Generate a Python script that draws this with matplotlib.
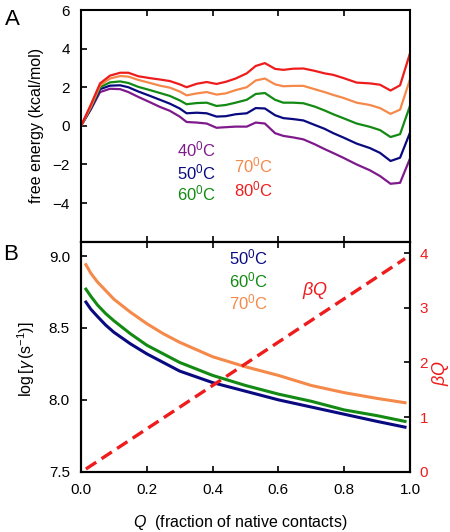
import matplotlib
matplotlib.use("Agg")
import matplotlib.pyplot as plt

plt.rcParams['font.family'] = ['Liberation Sans', 'DejaVu Sans']
plt.rcParams['mathtext.fontset'] = 'custom'
plt.rcParams['mathtext.rm'] = 'Liberation Sans'
plt.rcParams['mathtext.it'] = 'Liberation Sans:italic'

# ---- panel A: free energy profiles ----
q_a = [0, 0.03, 0.058, 0.088, 0.119, 0.144, 0.174, 0.21, 0.24, 0.27, 0.3, 0.321,
       0.352, 0.382, 0.412, 0.44, 0.47, 0.504, 0.531, 0.559, 0.59, 0.615, 0.645,
       0.676, 0.71, 0.74, 0.767, 0.797, 0.838, 0.878, 0.909, 0.941, 0.97, 1.0]
f40 = [0, 0.85, 1.75, 1.92, 1.9, 1.75, 1.5, 1.22, 0.98, 0.78, 0.48, 0.2, 0.17, 0.12,
       -0.1, -0.07, -0.04, -0.04, 0.17, 0.12, -0.38, -0.52, -0.6, -0.7, -0.95, -1.2,
       -1.41, -1.65, -2.0, -2.3, -2.6, -3.0, -2.95, -1.7]
f50 = [0, 0.9, 1.9, 2.08, 2.1, 2.0, 1.78, 1.55, 1.35, 1.15, 0.9, 0.65, 0.68, 0.65,
       0.48, 0.5, 0.6, 0.65, 0.92, 0.9, 0.55, 0.4, 0.35, 0.28, 0.05, -0.15, -0.38,
       -0.6, -0.92, -1.15, -1.4, -1.82, -1.65, -0.36]
f60 = [0, 0.95, 2.0, 2.25, 2.3, 2.22, 2.02, 1.85, 1.7, 1.55, 1.32, 1.12, 1.18, 1.2,
       1.03, 1.08, 1.2, 1.35, 1.65, 1.7, 1.35, 1.2, 1.2, 1.17, 1.0, 0.8, 0.6, 0.4,
       0.12, -0.05, -0.22, -0.58, -0.43, 1.03]
f70 = [0, 1.0, 2.1, 2.45, 2.58, 2.55, 2.38, 2.22, 2.08, 1.98, 1.78, 1.58, 1.68, 1.75,
       1.62, 1.68, 1.85, 2.0, 2.35, 2.45, 2.15, 2.05, 2.07, 2.07, 1.9, 1.75, 1.6,
       1.45, 1.2, 1.08, 0.92, 0.62, 0.84, 2.4]
f80 = [0, 1.1, 2.2, 2.6, 2.75, 2.75, 2.57, 2.47, 2.4, 2.32, 2.15, 2.0, 2.18, 2.27,
       2.17, 2.28, 2.45, 2.72, 3.1, 3.25, 2.95, 2.9, 2.96, 2.97, 2.85, 2.72, 2.64,
       2.48, 2.24, 2.2, 2.13, 1.83, 2.1, 3.75]

# ---- panel B: rates and beta*Q ----
q_b = [0.015, 0.03, 0.05, 0.075, 0.1, 0.15, 0.2, 0.25, 0.3, 0.4, 0.5, 0.6, 0.7,
       0.8, 0.9, 0.985]
g50 = [8.68, 8.63, 8.58, 8.52, 8.47, 8.39, 8.32, 8.26, 8.2, 8.12, 8.06, 8.0, 7.95,
       7.9, 7.85, 7.81]
g60 = [8.77, 8.72, 8.66, 8.6, 8.55, 8.46, 8.38, 8.32, 8.26, 8.17, 8.1, 8.04, 7.99,
       7.93, 7.89, 7.85]
g70 = [8.94, 8.88, 8.82, 8.76, 8.7, 8.61, 8.53, 8.46, 8.4, 8.3, 8.23, 8.17, 8.1,
       8.05, 8.01, 7.98]
q_beta = [0.015, 0.985]
beta_q = [0.05, 3.9]

purple = '#7f1a8c'
navy = '#0a0a80'
green = '#138a13'
orange = '#f5894a'
red = '#ee1c1c'

fig = plt.figure(figsize=(4.5, 5.32), dpi=100)
ax1 = fig.add_axes([0.18, 0.5457, 0.731, 0.4355])
ax2 = fig.add_axes([0.18, 0.1133, 0.731, 0.4324])

ax1.plot(q_a, f40, color=purple, lw=1.6)
ax1.plot(q_a, f50, color=navy, lw=1.6)
ax1.plot(q_a, f60, color=green, lw=1.6)
ax1.plot(q_a, f70, color=orange, lw=1.6)
ax1.plot(q_a, f80, color=red, lw=1.6)
ax1.set_xlim(0, 1)
ax1.set_ylim(-6, 6)
ax1.set_yticks([-4, -2, 0, 2, 4, 6])
ax1.set_xticks([0.2, 0.4, 0.6, 0.8])
ax1.set_xticklabels([])
ax1.tick_params(axis='x', direction='in', top=True, bottom=True, length=4, width=1.2)
ax1.tick_params(axis='y', direction='in', length=4, width=1.2, labelsize=11, pad=8)
ax1.set_ylabel('free energy (kcal/mol)', fontsize=11.5)
ax1.yaxis.set_label_coords(-0.112, 0.5)

temps_a = [(r'40$^0$C', purple, 0.35, 0.396), (r'50$^0$C', navy, 0.35, 0.30),
           (r'60$^0$C', green, 0.35, 0.21), (r'70$^0$C', orange, 0.523, 0.327),
           (r'80$^0$C', red, 0.523, 0.227)]
for txt, c, x, y in temps_a:
    ax1.text(x, y, txt, color=c, fontsize=12, ha='center', va='center',
             transform=ax1.transAxes)

ax2.plot(q_b, g50, color=navy, lw=2.2)
ax2.plot(q_b, g60, color=green, lw=2.2)
ax2.plot(q_b, g70, color=orange, lw=2.2)
ax2.set_xlim(0, 1)
ax2.set_ylim(7.5, 9.1)
ax2.set_yticks([7.5, 8.0, 8.5, 9.0])
ax2.set_xticks([0, 0.2, 0.4, 0.6, 0.8, 1.0])
ax2.set_xticklabels(['0.0', '0.2', '0.4', '0.6', '0.8', '1.0'])
ax2.tick_params(axis='x', direction='in', top=True, bottom=True, length=4, width=1.2,
                labelsize=11, pad=8)
ax2.tick_params(axis='y', direction='in', length=4, width=1.2, labelsize=11, pad=8)
ax2.set_ylabel(r'log$\,[\gamma\,(\mathrm{s}^{-1})]$', fontsize=11.5)
ax2.yaxis.set_label_coords(-0.135, 0.49)
ax2.set_xlabel(r'$Q$  (fraction of native contacts)', fontsize=11.5)
ax2.xaxis.set_label_coords(0.485, -0.18)

ax3 = ax2.twinx()
ax3.plot(q_beta, beta_q, color=red, lw=2.4, dashes=(3.7, 1.9))
ax3.set_ylim(0, 4.21)
ax3.set_yticks([0, 1, 2, 3, 4])
ax3.tick_params(axis='y', direction='in', length=4, width=1.2, labelsize=11,
                labelcolor=red, pad=7)
ax3.set_ylabel(r'$\beta Q$', color=red, fontsize=13)
ax3.yaxis.set_label_coords(1.062, 0.43)

temps_b = [(r'50$^0$C', navy, 0.93), (r'60$^0$C', green, 0.833),
           (r'70$^0$C', orange, 0.738)]
for txt, c, y in temps_b:
    ax2.text(0.508, y, txt, color=c, fontsize=12, ha='center', va='center',
             transform=ax2.transAxes)
ax2.text(0.711, 0.786, r'$\beta Q$', color=red, fontsize=13, ha='center',
         va='center', transform=ax2.transAxes)

for ax in (ax1, ax2, ax3):
    for s in ax.spines.values():
        s.set_linewidth(1.5)

fig.text(12.5 / 450, 1 - 19.5 / 532, 'A', fontsize=16, ha='center', va='center')
fig.text(11 / 450, 1 - 255 / 532, 'B', fontsize=16, ha='center', va='center')

fig.savefig('out.png', dpi=100)
